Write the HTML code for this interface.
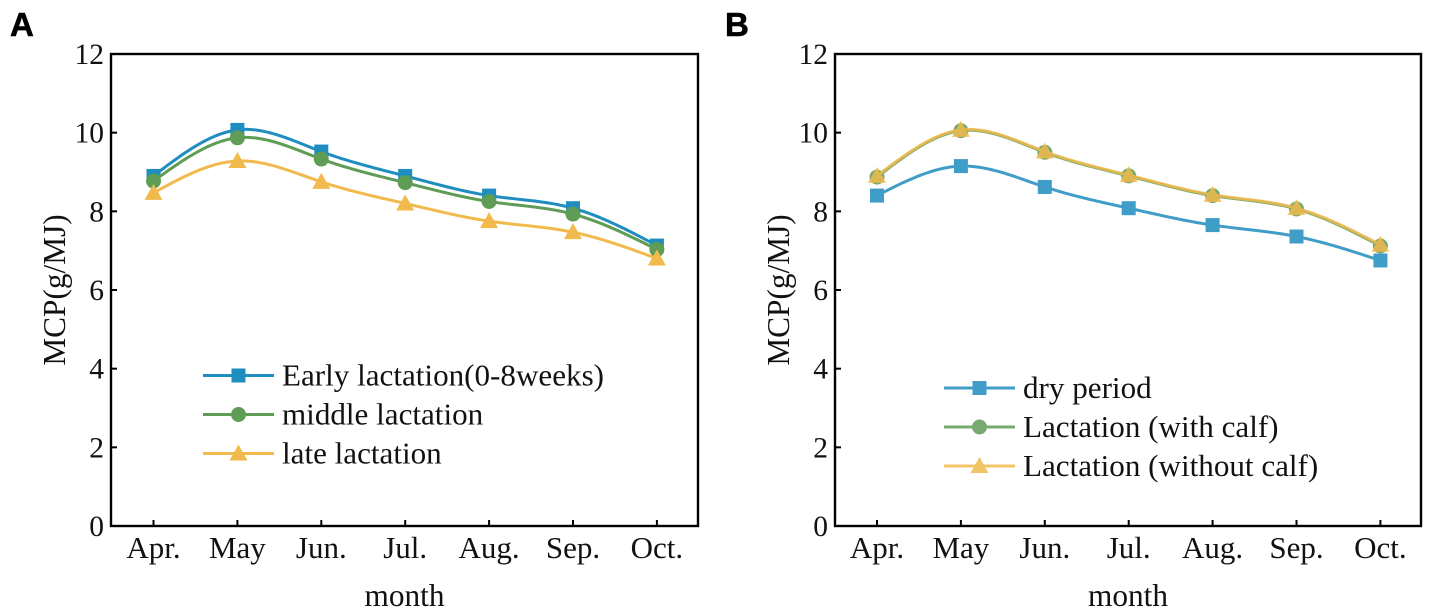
<!DOCTYPE html>
<html>
<head>
<meta charset="utf-8">
<title>MCP by month</title>
<style>
html,body{margin:0;padding:0;background:#fff;width:1429px;height:613px;overflow:hidden}
svg{display:block}
text{font-family:"Liberation Serif",serif;fill:#111}
</style>
</head>
<body>
<svg id="chart" width="1429" height="613" viewBox="0 0 1429 613" xmlns="http://www.w3.org/2000/svg">
  <rect width="1429" height="613" fill="#fff"/>
</svg>
<script>
const months = ['Apr.', 'May', 'Jun.', 'Jul.', 'Aug.', 'Sep.', 'Oct.'];
const yTicks = [0, 2, 4, 6, 8, 10, 12];
const earlyLactation = [8.90, 10.07, 9.52, 8.90, 8.40, 8.08, 7.13];
const middleLactation = [8.77, 9.87, 9.33, 8.73, 8.25, 7.93, 7.03];
const lateLactation = [8.47, 9.28, 8.75, 8.20, 7.75, 7.47, 6.80];
const dryPeriod = [8.40, 9.15, 8.62, 8.08, 7.65, 7.36, 6.75];
const withCalf = [8.87, 10.05, 9.50, 8.90, 8.40, 8.06, 7.12];
const withoutCalf = [8.90, 10.07, 9.52, 8.92, 8.42, 8.08, 7.15];
const seriesNamesA = ['Early lactation(0-8weeks)', 'middle lactation', 'late lactation'];
const seriesNamesB = ['dry period', 'Lactation (with calf)', 'Lactation (without calf)'];

const NS = 'http://www.w3.org/2000/svg';
const root = document.getElementById('chart');

function make(tag, parent, props, text) {
  const el = document.createElementNS(NS, tag);
  for (const k in props) el.setAttribute(k, props[k]);
  if (text !== undefined) el.textContent = text;
  parent.appendChild(el);
  return el;
}

// Natural cubic spline through the data, sampled into an SVG path
function splinePath(xs, ys) {
  const n = xs.length;
  const a = new Array(n).fill(0), b = new Array(n).fill(1), c = new Array(n).fill(0), d = new Array(n).fill(0);
  for (let i = 1; i < n - 1; i++) {
    const h0 = xs[i] - xs[i - 1], h1 = xs[i + 1] - xs[i];
    a[i] = h0; b[i] = 2 * (h0 + h1); c[i] = h1;
    d[i] = 6 * ((ys[i + 1] - ys[i]) / h1 - (ys[i] - ys[i - 1]) / h0);
  }
  for (let i = 1; i < n; i++) {
    const m = a[i] / b[i - 1];
    b[i] -= m * c[i - 1];
    d[i] -= m * d[i - 1];
  }
  const s = new Array(n).fill(0);
  s[n - 1] = d[n - 1] / b[n - 1];
  for (let i = n - 2; i >= 0; i--) s[i] = (d[i] - c[i] * s[i + 1]) / b[i];
  let p = 'M' + xs[0].toFixed(2) + ' ' + ys[0].toFixed(2);
  for (let i = 0; i < n - 1; i++) {
    const h = xs[i + 1] - xs[i];
    for (let j = 1; j <= 24; j++) {
      const t = j / 24 * h, u = h - t;
      const y = (s[i] * u * u * u + s[i + 1] * t * t * t) / (6 * h)
        + (ys[i] / h - s[i] * h / 6) * u + (ys[i + 1] / h - s[i + 1] * h / 6) * t;
      p += 'L' + (xs[i] + t).toFixed(2) + ' ' + y.toFixed(2);
    }
  }
  return p;
}

function marker(parent, shape, cx, cy, size, color) {
  let el;
  if (shape === 'square') {
    el = make('rect', parent, {x: cx - size, y: cy - size, width: size * 2, height: size * 2, fill: color});
  } else if (shape === 'circle') {
    el = make('circle', parent, {cx: cx, cy: cy, r: size + 0.5, fill: color});
  } else {
    el = make('polygon', parent, {points: (cx - size - 2) + ',' + (cy + size) + ' ' + (cx + size + 2) + ',' + (cy + size) + ' ' + cx + ',' + (cy - size - 2), fill: color});
  }
  return el;
}

function panel(cfg) {
  const g = make('g', root, {});
  
  
  const L = cfg.left, R = cfg.right, T = 54, B = 526;
  const xStart = cfg.firstX, xStep = 83.9;
  const xScale = i => xStart + i * xStep;
  const yScale = v => B - (v / 12) * (B - T);

  const letter = make('text', g, {x: cfg.letterX, y: 36, 'font-size': 33, 'font-weight': 'bold', style: 'font-family:"Liberation Sans",sans-serif;fill:#000;stroke:#000;stroke-width:.6'}, cfg.letter);
  
  

  const frame = make('rect', g, {x: L, y: T, width: R - L, height: B - T, fill: 'none', stroke: '#000', 'stroke-width': 2.4});
  
  

  yTicks.forEach(v => {
    const y = yScale(v);
    const tick = make('line', g, {x1: L, x2: L + 6, y1: y, y2: y, stroke: '#000', 'stroke-width': 2});
    
    
    const label = make('text', g, {x: L - 7, y: y + 10, 'font-size': 29.5, 'text-anchor': 'end'}, v);
    
    
  });

  months.forEach((m, i) => {
    const x = xScale(i);
    const tick = make('line', g, {x1: x, x2: x, y1: B, y2: B - 6, stroke: '#000', 'stroke-width': 2});
    
    
    const label = make('text', g, {x: x, y: 558, 'font-size': 31, 'text-anchor': 'middle'}, m);
    
    
  });

  const xTitle = make('text', g, {x: (L + R) / 2, y: 606, 'font-size': 31.3, 'text-anchor': 'middle'}, 'month');
  
  

  const yx = L - 46, yy = 290;
  const yTitle = make('text', g, {x: yx, y: yy, 'font-size': 31.3, 'text-anchor': 'middle', transform: 'rotate(-90 ' + yx + ' ' + yy + ')'}, 'MCP(g/MJ)');
  
  

  cfg.series.forEach((s, k) => {
    const sg = make('g', g, {opacity: cfg.opacity});
    
    
    const xs = s.values.map((_, i) => xScale(i));
    const ys = s.values.map(v => yScale(v));
    const line = make('path', sg, {d: splinePath(xs, ys), fill: 'none', stroke: s.color, 'stroke-width': 3});
    
    
    s.values.forEach((v, i) => {
      const pt = marker(sg, s.shape, xScale(i), yScale(v), 7, s.color);
      
      
    });
  });

  const lg = make('g', g, {});
  
  
  cfg.series.forEach((s, k) => {
    const y = cfg.legendY + k * 39;
    const eg = make('g', lg, {opacity: cfg.opacity});
    
    
    make('line', eg, {x1: cfg.legendX, x2: cfg.legendX + 71, y1: y, y2: y, stroke: s.color, 'stroke-width': 3});
    marker(eg, s.shape, cfg.legendX + 35.5, y, 7, s.color);
    const t = make('text', lg, {x: cfg.legendX + 79, y: y + 10, 'font-size': 31.1}, s.name);
    
    
  });
}

panel({
  id: 'a', letter: 'A', letterX: 10, left: 111, right: 698, firstX: 153.5, opacity: 1,
  legendX: 203, legendY: 375.5,
  series: [
    {key: 'early-lactation', name: seriesNamesA[0], values: earlyLactation, color: '#1f8dbf', shape: 'square'},
    {key: 'middle-lactation', name: seriesNamesA[1], values: middleLactation, color: '#5f9c55', shape: 'circle'},
    {key: 'late-lactation', name: seriesNamesA[2], values: lateLactation, color: '#f2ba4c', shape: 'triangle'}
  ]
});
panel({
  id: 'b', letter: 'B', letterX: 725, left: 835, right: 1421, firstX: 877, opacity: 0.85,
  legendX: 944, legendY: 388,
  series: [
    {key: 'dry-period', name: seriesNamesB[0], values: dryPeriod, color: '#1f8dbf', shape: 'square'},
    {key: 'with-calf', name: seriesNamesB[1], values: withCalf, color: '#5f9c55', shape: 'circle'},
    {key: 'without-calf', name: seriesNamesB[2], values: withoutCalf, color: '#f2ba4c', shape: 'triangle'}
  ]
});
</script>
</body>
</html>
